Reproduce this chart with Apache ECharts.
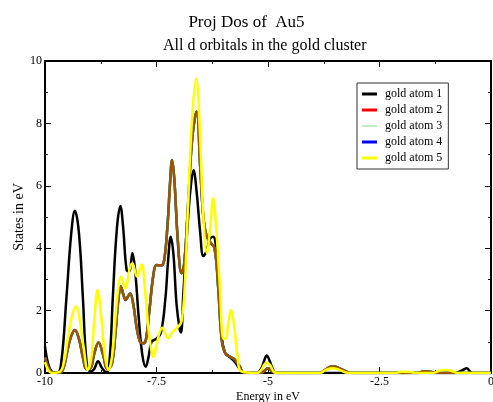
<!DOCTYPE html>
<html>
<head>
<meta charset="utf-8">
<title>Proj Dos of Au5</title>
<script src="https://cdn.jsdelivr.net/npm/echarts@6/dist/echarts.min.js"></script>
<style>
  html, body { margin: 0; padding: 0; background: #fff; }
  #chart { width: 493px; height: 402px; }
</style>
</head>
<body>
<div id="chart"></div>
<script>
(function(){
  'use strict';

  var FONT = '"Liberation Serif", "Times New Roman", serif';

  var seriesNames = ['gold atom 1', 'gold atom 2', 'gold atom 3', 'gold atom 4', 'gold atom 5'];
  var xTicks = [-10, -7.5, -5, -2.5, 0];
  var yTicks = [0, 2, 4, 6, 8, 10];

  // [energy, states]
  var atom1Dos = [
    [-10,0.85],[-9.93,0.3],[-9.85,0.05],[-9.72,0],[-9.63,0.4],[-9.52,2.4],[-9.41,4.5],[-9.33,5.2],
    [-9.24,4.5],[-9.15,2.4],[-9.07,0.4],[-8.98,0.05],[-8.9,0.12],[-8.81,0.38],[-8.72,0.15],[-8.62,0.02],
    [-8.55,0.45],[-8.48,2.4],[-8.39,4.6],[-8.31,5.35],[-8.25,4.7],[-8.17,3.3],[-8.11,3.25],[-8.04,3.85],
    [-7.98,3.3],[-7.9,1.8],[-7.82,0.6],[-7.74,0.2],[-7.68,0.5],[-7.61,1.0],[-7.5,1.1],[-7.4,1.3],
    [-7.3,2.4],[-7.24,3.6],[-7.18,4.37],[-7.12,3.8],[-7.05,2.2],[-6.98,1.4],[-6.95,1.3],[-6.9,2.5],
    [-6.8,4.8],[-6.73,6.0],[-6.67,6.5],[-6.6,5.8],[-6.52,4.5],[-6.45,3.75],[-6.38,3.9],[-6.3,4.3],
    [-6.23,4.37],[-6.18,4.2],[-6.1,2.9],[-6.04,1.2],[-5.96,0.64],[-5.85,0.5],[-5.74,0.35],[-5.63,0.12],
    [-5.55,0],[-5.25,0],[-5.15,0.15],[-5.08,0.42],[-5.03,0.56],[-4.97,0.42],[-4.9,0.15],[-4.82,0],
    [-0.8,0],[-0.7,0.05],[-0.6,0.12],[-0.55,0.15],[-0.5,0.1],[-0.42,0],[0,0]
  ];

  // atoms 2, 3 and 4 lie on top of each other
  var atom234Dos = [
    [-10,0.5],[-9.93,0.2],[-9.85,0.03],[-9.7,0],[-9.6,0.1],[-9.5,0.7],[-9.42,1.15],[-9.33,1.38],
    [-9.24,1.1],[-9.15,0.5],[-9.07,0.12],[-8.98,0.15],[-8.9,0.6],[-8.8,0.98],[-8.7,0.6],[-8.6,0.12],
    [-8.5,0.3],[-8.42,1.3],[-8.36,2.3],[-8.3,2.77],[-8.24,2.5],[-8.19,2.34],[-8.14,2.45],[-8.09,2.55],
    [-8.02,2.2],[-7.95,1.5],[-7.87,1.0],[-7.8,0.95],[-7.74,1.05],[-7.66,2.0],[-7.57,3.14],[-7.5,3.46],
    [-7.4,3.45],[-7.33,3.6],[-7.25,4.8],[-7.2,6.0],[-7.15,6.83],[-7.1,6.2],[-7.02,4.2],[-6.94,3.2],
    [-6.88,3.5],[-6.8,5.2],[-6.7,7.5],[-6.6,8.38],[-6.52,6.6],[-6.45,5.0],[-6.38,4.4],[-6.3,4.2],
    [-6.2,4.0],[-6.12,2.8],[-6.04,1.1],[-5.96,0.64],[-5.85,0.52],[-5.74,0.42],[-5.63,0.2],[-5.55,0.02],
    [-5.2,0],[-5.1,0.05],[-5.0,0.15],[-4.9,0.05],[-4.8,0],[-3.85,0],[-3.7,0.12],[-3.55,0.22],
    [-3.4,0.15],[-3.2,0.02],[-3.1,0],[-1.65,0],[-1.5,0.06],[-1.35,0.04],[-1.25,0],[0,0]
  ];

  var atom5Dos = [
    [-10,0.35],[-9.93,0.1],[-9.85,0],[-9.7,0.02],[-9.6,0.2],[-9.5,1.0],[-9.4,1.8],[-9.3,2.13],
    [-9.22,1.7],[-9.13,0.8],[-9.04,0.1],[-8.96,0.5],[-8.9,1.6],[-8.82,2.66],[-8.74,1.8],[-8.66,0.6],
    [-8.58,0.1],[-8.5,0.5],[-8.42,1.8],[-8.36,2.7],[-8.3,3.09],[-8.2,2.72],[-8.1,3.35],[-8.04,3.52],
    [-7.94,3.09],[-7.88,3.3],[-7.83,3.48],[-7.76,2.7],[-7.68,1.4],[-7.6,0.6],[-7.57,0.52],[-7.5,0.9],
    [-7.43,1.3],[-7.37,1.45],[-7.3,1.25],[-7.24,1.11],[-7.15,1.3],[-7.05,1.43],[-6.94,1.65],[-6.86,3.0],
    [-6.79,5.5],[-6.7,8.2],[-6.61,9.45],[-6.53,7.8],[-6.45,5.0],[-6.37,3.84],[-6.3,4.6],[-6.23,5.6],
    [-6.16,4.6],[-6.08,2.8],[-6.0,1.1],[-5.95,1.1],[-5.89,1.6],[-5.83,2.02],[-5.76,1.5],[-5.68,0.5],
    [-5.6,0.05],[-5.25,0],[-5.15,0.1],[-5.08,0.28],[-5.02,0.33],[-4.95,0.25],[-4.88,0.06],[-4.8,0],
    [-3.85,0],[-3.7,0.1],[-3.55,0.15],[-3.4,0.1],[-3.2,0],[-2.15,0],[-2.0,0.04],[-1.8,0.03],
    [-1.7,0],[-1.3,0],[-1.15,0.08],[-1.0,0.1],[-0.85,0.05],[-0.75,0],[0,0]
  ];

  var colors = ['#000000', '#ff0000', '#00e000', '#0000ff', '#ffff00'];

  // legend keys: a thick bar and a thin one, both inside the same 15x8 box
  var thickKey = 'path://M0,0 M0,2.5 L15,2.5 L15,5.5 L0,5.5 Z M15,8';
  var thinKey = 'path://M0,0 M0,3.5 L15,3.5 L15,4.5 L0,4.5 Z M15,8';

  function frameAxis(position, extra){
    var axis = {
      type: 'value',
      position: position,
      axisLine: { show: true, onZero: false, lineStyle: { color: '#000', width: 2 } },
      axisTick: { show: true, inside: true, length: 6, lineStyle: { color: '#000', width: 1 } },
      minorTick: { show: true, splitNumber: 2, length: 3, lineStyle: { color: '#000', width: 1 } },
      splitLine: { show: false },
      axisLabel: { show: false }
    };
    for (var k in extra) { axis[k] = extra[k]; }
    return axis;
  }

  function lineSeries(name, data, color, width, z, opacity){
    return {
      name: name,
      type: 'line',
      data: data,
      smooth: 0.4,
      showSymbol: false,
      symbol: 'none',
      z: z,
      color: color,
      lineStyle: { color: color, width: width, opacity: opacity === undefined ? 1 : opacity }
    };
  }

  var labelStyle = { show: true, color: '#000', fontFamily: FONT, fontSize: 12 };

  var options = {
    animation: false,
    backgroundColor: '#fff',
    title: [
      {
        text: 'Proj Dos of  Au5',
        left: 'center',
        top: 9,
        textStyle: { fontFamily: FONT, fontSize: 17, fontWeight: 'normal', color: '#000' }
      },
      {
        text: 'All d orbitals in the gold cluster',
        left: 158,
        top: 33,
        textStyle: { fontFamily: FONT, fontSize: 16, fontWeight: 'normal', color: '#000' }
      }
    ],
    grid: { left: 45, right: 2, top: 61, bottom: 29, outerBoundsMode: 'none' },
    legend: {
      orient: 'vertical',
      left: 357,
      top: 83,
      padding: [4, 6, 4, 5],
      itemWidth: 15,
      itemHeight: 8,
      itemGap: 2,
      backgroundColor: '#fff',
      borderColor: '#333',
      borderWidth: 1,
      textStyle: { fontFamily: FONT, fontSize: 12, lineHeight: 14, color: '#000', padding: [0, 0, 0, 3] },
      data: [
        { name: seriesNames[0], icon: thickKey, itemStyle: { color: colors[0] } },
        { name: seriesNames[1], icon: thickKey, itemStyle: { color: colors[1], opacity: 1 } },
        { name: seriesNames[2], icon: thinKey, itemStyle: { color: '#80e080' } },
        { name: seriesNames[3], icon: thickKey, itemStyle: { color: colors[3] } },
        { name: seriesNames[4], icon: thickKey, itemStyle: { color: colors[4] } }
      ]
    },
    xAxis: [
      frameAxis('bottom', {
        min: xTicks[0], max: xTicks[xTicks.length - 1], interval: 2.5,
        name: 'Energy in eV', nameLocation: 'middle', nameGap: 18, nameMoveOverlap: false,
        nameTextStyle: { fontFamily: FONT, fontSize: 12, color: '#000' },
        axisLabel: Object.assign({ margin: 3 }, labelStyle)
      }),
      frameAxis('top', { min: xTicks[0], max: xTicks[xTicks.length - 1], interval: 2.5 })
    ],
    yAxis: [
      frameAxis('left', {
        min: yTicks[0], max: yTicks[yTicks.length - 1], interval: 2,
        name: 'States in eV', nameLocation: 'middle', nameGap: 19, nameMoveOverlap: false,
        nameTextStyle: { fontFamily: FONT, fontSize: 14, color: '#000' },
        axisLabel: Object.assign({ margin: 3 }, labelStyle)
      }),
      frameAxis('right', { min: yTicks[0], max: yTicks[yTicks.length - 1], interval: 2 })
    ],
    series: [
      lineSeries(seriesNames[0], atom1Dos, colors[0], 2.5, 2),
      lineSeries(seriesNames[3], atom234Dos, colors[3], 2.5, 3),
      lineSeries(seriesNames[2], atom234Dos, colors[2], 2.5, 4),
      lineSeries(seriesNames[1], atom234Dos, colors[1], 2.5, 5, 0.62),
      lineSeries(seriesNames[4], atom5Dos, colors[4], 2.5, 6)
    ]
  };

  var chart = echarts.init(document.getElementById('chart'));
  chart.setOption(options);
})();
</script>
</body>
</html>
